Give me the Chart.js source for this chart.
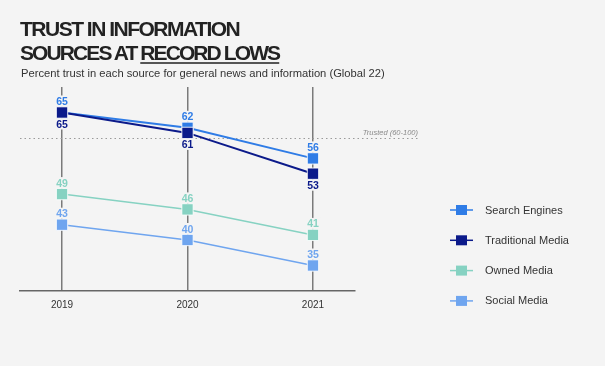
<!doctype html>
<html lang="en">
<head>
<meta charset="utf-8">
<title>Trust in information sources</title>
<style>
  html, body { margin: 0; padding: 0; background: #f4f4f4; }
  #wrap { position: relative; width: 605px; height: 366px; overflow: hidden; }
  #chart { position: absolute; left: 0; top: 0; }
  .title { position: absolute; left: 20px; top: 17px; font-family: "Liberation Sans", Arial, sans-serif; font-weight: 700;
           font-size: 21px; line-height: 24px; letter-spacing: -1.5px; color: #222; }
  .title .l2 { letter-spacing: -1.9px; }
  .title u { text-decoration-thickness: 1.5px; text-underline-offset: 2px; text-decoration-color: #555; }
  .sub { position: absolute; left: 21px; top: 67px; font-family: "Liberation Sans", Arial, sans-serif; font-size: 11.2px; color: #333; }
</style>
</head>
<body>
<div id="wrap">
  <canvas id="chart" width="605" height="366"></canvas>
  <div class="title">TRUST IN INFORMATION<br><span class="l2">SOURCES AT <u>RECORD LOWS</u></span></div>
  <div class="sub">Percent trust in each source for general news and information (Global 22)</div>
</div>
<script src="https://cdn.jsdelivr.net/npm/chart.js@4.4.1/dist/chart.umd.min.js"></script>
<script>
// data
var years = ['2019', '2020', '2021'];
var searchEngines = [65, 62, 56];
var traditionalMedia = [65, 61, 53];
var ownedMedia = [49, 46, 41];
var socialMedia = [43, 40, 35];
var trustedLevel = 60;

var seriesNames = ['Search Engines', 'Traditional Media', 'Owned Media', 'Social Media'];
var seriesValues = [searchEngines, traditionalMedia, ownedMedia, socialMedia];
var seriesColors = ['#2f7ce6', '#0b1a8a', '#86d2c2', '#6fa5ef'];
var labelSide = [-1, 1, -1, -1];  // -1 above the point, 1 below
var lineWidths = [2, 2, 1.5, 1.5];

var BG = '#f4f4f4';

var datasets = seriesValues.map(function (vals, i) {
  return {
    label: seriesNames[i],
    data: vals.map(function (v, j) { return { x: j, y: v }; }),
    borderColor: seriesColors[i],
    backgroundColor: seriesColors[i],
    borderWidth: lineWidths[i],
    pointStyle: 'rect',
    pointRadius: 8,
    pointBorderColor: 'rgba(255,255,255,0.85)',
    pointBorderWidth: 1,
    labelSide: labelSide[i]
  };
});
// draw the darker series on top of the lighter ones, like the original
datasets = datasets.slice().reverse();

var trustedLine = {
  id: 'trustedLine',
  beforeDatasetsDraw: function (chart) {
    var ctx = chart.ctx, y = chart.scales.y.getPixelForValue(trustedLevel);
    ctx.save();
    ctx.strokeStyle = '#9a9a9a';
    ctx.lineWidth = 1;
    ctx.setLineDash([1.5, 3]);
    ctx.beginPath();
    ctx.moveTo(chart.chartArea.left, Math.round(y) + 0.5);
    ctx.lineTo(418, Math.round(y) + 0.5);
    ctx.stroke();
    ctx.setLineDash([]);
    ctx.fillStyle = '#8a8a8a';
    ctx.font = 'italic 7.5px "Liberation Sans", Arial, sans-serif';
    ctx.textAlign = 'right';
    ctx.textBaseline = 'bottom';
    ctx.fillText('Trusted (60-100)', 418, y - 1);
    ctx.restore();
  }
};

var valueLabels = {
  id: 'valueLabels',
  afterDatasetsDraw: function (chart) {
    var ctx = chart.ctx;
    ctx.save();
    ctx.font = 'bold 10.5px "Liberation Sans", Arial, sans-serif';
    ctx.textAlign = 'center';
    ctx.textBaseline = 'alphabetic';
    chart.data.datasets.forEach(function (ds, di) {
      var meta = chart.getDatasetMeta(di);
      meta.data.forEach(function (pt, j) {
        var txt = String(ds.data[j].y);
        var base = ds.labelSide < 0 ? pt.y - 7.5 : pt.y + 15.5;
        var w = ctx.measureText(txt).width;
        ctx.fillStyle = BG;
        ctx.fillRect(pt.x - w / 2 - 2, base - 9.5, w + 4, 11);
        ctx.fillStyle = ds.borderColor;
        ctx.fillText(txt, pt.x, base);
      });
    });
    ctx.restore();
  }
};

var sideLegend = {
  id: 'sideLegend',
  afterDraw: function (chart) {
    var ctx = chart.ctx;
    ctx.save();
    seriesNames.forEach(function (name, i) {
      var y = 210 + i * 30.3;
      ctx.strokeStyle = seriesColors[i];
      ctx.lineWidth = 1.5;
      ctx.beginPath();
      ctx.moveTo(450, y);
      ctx.lineTo(473, y);
      ctx.stroke();
      ctx.fillStyle = seriesColors[i];
      ctx.fillRect(456, y - 5, 11, 10);
      ctx.fillStyle = '#333';
      ctx.font = '11px "Liberation Sans", Arial, sans-serif';
      ctx.textAlign = 'left';
      ctx.textBaseline = 'middle';
      ctx.fillText(name, 485, y + 0.5);
    });
    ctx.restore();
  }
};

var bgPlugin = {
  id: 'bg',
  beforeDraw: function (chart) {
    var ctx = chart.ctx;
    ctx.save();
    ctx.fillStyle = BG;
    ctx.fillRect(0, 0, chart.width, chart.height);
    ctx.restore();
  }
};

new Chart(document.getElementById('chart'), {
  type: 'line',
  data: { datasets: datasets },
  options: {
    responsive: false,
    animation: false,
    layout: { padding: { left: 20, right: 250, top: 87, bottom: 47 } },
    plugins: { legend: { display: false }, tooltip: { enabled: false } },
    scales: {
      x: {
        type: 'linear',
        min: -0.335,
        max: 2.335,
        afterBuildTicks: function (axis) {
          axis.ticks = years.map(function (y, i) { return { value: i }; });
        },
        ticks: {
          callback: function (v) { return years[v]; },
          color: '#333',
          font: { family: '"Liberation Sans", Arial, sans-serif', size: 10 },
          padding: 8,
          maxRotation: 0
        },
        grid: { color: '#7a7a7a', lineWidth: 1.5, drawTicks: false },
        border: { color: '#666', width: 1.5 }
      },
      y: {
        display: false,
        min: 30,
        max: 70
      }
    }
  },
  plugins: [bgPlugin, trustedLine, valueLabels, sideLegend]
});
</script>
</body>
</html>
